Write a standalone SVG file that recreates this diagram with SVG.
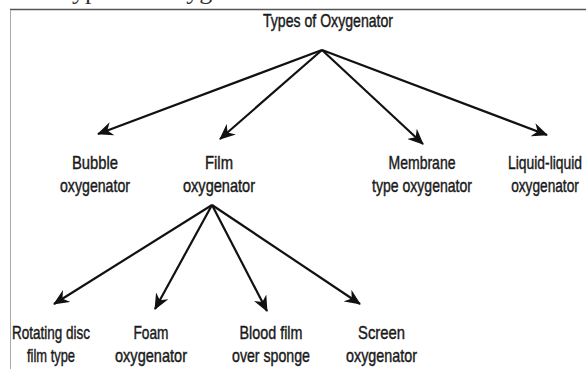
<svg xmlns="http://www.w3.org/2000/svg" width="586" height="369" viewBox="0 0 586 369">
<style>
.lbl{font-family:"Liberation Sans",Arial,sans-serif;font-size:19px;fill:#1a1a1a;stroke:#1a1a1a;stroke-width:0.45;text-anchor:middle}
.edge{stroke:#111;stroke-width:2.2;fill:none}
</style>
<defs>
<marker id="ah" viewBox="0 0 16 14" refX="15" refY="7" markerWidth="16" markerHeight="14" markerUnits="userSpaceOnUse" orient="auto">
<path d="M0,0 L16,7 L0,14 L5,7 Z" fill="#111"/>
</marker>
</defs>
<rect width="586" height="369" fill="#fff"/>
<text x="58" y="-1" font-family="'Liberation Serif',serif" font-size="26" fill="#333">Types of Oxygenator</text>
<line x1="10" y1="9.5" x2="586" y2="9.5" stroke="#555" stroke-width="1.5"/>
<line x1="10.5" y1="10" x2="10.5" y2="369" stroke="#aaa" stroke-width="1"/>
<g id="connectors">
<line class="edge" x1="322" y1="50" x2="98" y2="134" marker-end="url(#ah)"/>
<line class="edge" x1="322" y1="50" x2="220" y2="139" marker-end="url(#ah)"/>
<line class="edge" x1="322" y1="50" x2="423" y2="144" marker-end="url(#ah)"/>
<line class="edge" x1="322" y1="50" x2="547" y2="135" marker-end="url(#ah)"/>
<line class="edge" x1="212" y1="205" x2="54" y2="304" marker-end="url(#ah)"/>
<line class="edge" x1="212" y1="205" x2="155" y2="309" marker-end="url(#ah)"/>
<line class="edge" x1="212" y1="205" x2="267" y2="311" marker-end="url(#ah)"/>
<line class="edge" x1="212" y1="205" x2="360" y2="304" marker-end="url(#ah)"/>
</g>
<g id="root"><text class="lbl" x="328" y="27" textLength="130" lengthAdjust="spacingAndGlyphs">Types of Oxygenator</text></g>
<g id="bubble">
<text class="lbl" x="95" y="169" textLength="46" lengthAdjust="spacingAndGlyphs">Bubble</text>
<text class="lbl" x="95" y="192" textLength="70" lengthAdjust="spacingAndGlyphs">oxygenator</text>
</g>
<g id="film">
<text class="lbl" x="219" y="169" textLength="28" lengthAdjust="spacingAndGlyphs">Film</text>
<text class="lbl" x="219" y="192" textLength="72" lengthAdjust="spacingAndGlyphs">oxygenator</text>
</g>
<g id="membrane">
<text class="lbl" x="422" y="169" textLength="67" lengthAdjust="spacingAndGlyphs">Membrane</text>
<text class="lbl" x="422" y="192" textLength="100" lengthAdjust="spacingAndGlyphs">type oxygenator</text>
</g>
<g id="liquid">
<text class="lbl" transform="translate(545,169) scale(0.73,1)" x="0" y="0">Liquid-liquid</text>
<text class="lbl" transform="translate(545,192) scale(0.72,1)" x="0" y="0">oxygenator</text>
</g>
<g id="rotating">
<text class="lbl" x="51" y="339" textLength="78" lengthAdjust="spacingAndGlyphs">Rotating disc</text>
<text class="lbl" x="51" y="362" textLength="48" lengthAdjust="spacingAndGlyphs">film type</text>
</g>
<g id="foam">
<text class="lbl" x="151" y="339" textLength="35" lengthAdjust="spacingAndGlyphs">Foam</text>
<text class="lbl" x="151" y="362" textLength="72" lengthAdjust="spacingAndGlyphs">oxygenator</text>
</g>
<g id="blood">
<text class="lbl" x="271" y="339" textLength="63" lengthAdjust="spacingAndGlyphs">Blood film</text>
<text class="lbl" x="271" y="362" textLength="78" lengthAdjust="spacingAndGlyphs">over sponge</text>
</g>
<g id="screen">
<text class="lbl" x="381.5" y="339" textLength="47" lengthAdjust="spacingAndGlyphs">Screen</text>
<text class="lbl" x="381.5" y="362" textLength="71" lengthAdjust="spacingAndGlyphs">oxygenator</text>
</g>
</svg>
